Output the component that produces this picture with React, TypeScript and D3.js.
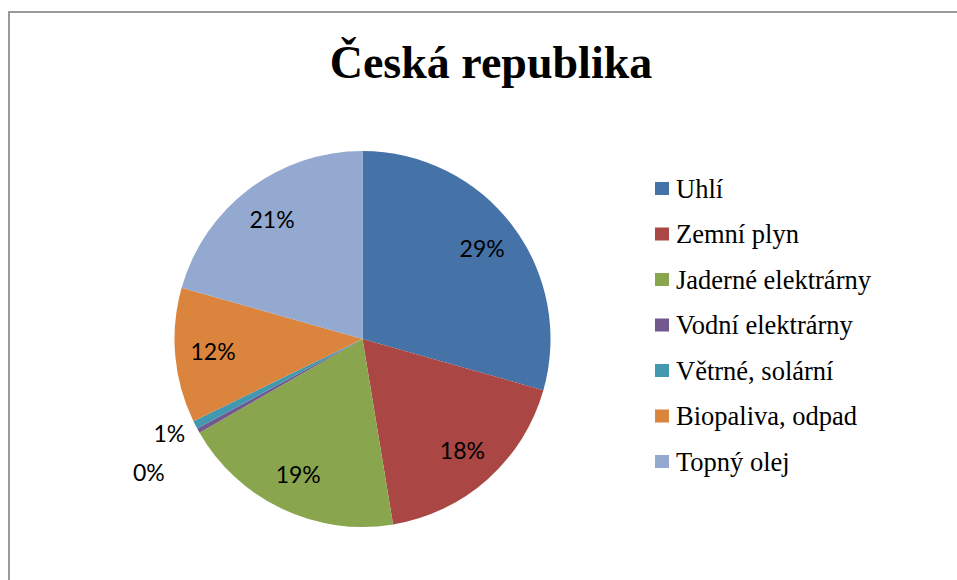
import React, { useEffect, useRef } from "react";
import * as d3 from "d3";

const categories = [
  "Uhlí",
  "Zemní plyn",
  "Jaderné elektrárny",
  "Vodní elektrárny",
  "Větrné, solární",
  "Biopaliva, odpad",
  "Topný olej",
];
const shares = [29.4, 18.0, 19.3, 0.4, 0.7, 11.6, 20.6];
const colors = ["#4572a7", "#aa4643", "#89a54e", "#71588f", "#4198af", "#db843d", "#93a9cf"];
const title = "Česká republika";

const serif = "'Liberation Serif', 'DejaVu Serif', serif";

const App = () => {
  const ref = useRef<SVGSVGElement>(null);

  useEffect(() => {
    const svg = d3.select(ref.current);
    svg.selectAll("*").remove();

    const cx = 362.5,
      cy = 339,
      r = 188;

    // chart frame
    svg
      .append("rect")
      .attr("x", 9)
      .attr("y", 12)
      .attr("width", 980)
      .attr("height", 600)
      .attr("fill", "white")
      .attr("stroke", "#9a9a9a")
      .attr("stroke-width", 2);

    svg
      .append("text")
      .attr("x", 491)
      .attr("y", 78)
      .attr("text-anchor", "middle")
      .attr("font-family", serif)
      .attr("font-weight", "bold")
      .attr("font-size", 46)
      .text(title);

    const data = categories.map((c, i) => ({ name: c, value: shares[i], color: colors[i] }));
    const pie = d3
      .pie<any>()
      .value((d) => d.value)
      .sort(null);
    const arcs = pie(data);
    const arc = d3.arc<any>().innerRadius(0).outerRadius(r);

    const g = svg.append("g").attr("transform", `translate(${cx},${cy})`);

    g.selectAll("path")
      .data(arcs)
      .join("path")
      .attr("d", arc)
      .attr("fill", (d) => d.data.color);

    const fmt = d3.format(".0f");
    const total = d3.sum(shares);
    // inner labels at ~150px, the two tiny slices get pushed outside
    const labelPos = (d: any) => {
      let a = (d.startAngle + d.endAngle) / 2;
      let rr = 150;
      if (d.data.name === "Větrné, solární") {
        rr = 215;
        a += 0.02;
      }
      if (d.data.name === "Vodní elektrárny") {
        rr = 252;
        a -= 0.05;
      }
      return [Math.sin(a) * rr, -Math.cos(a) * rr];
    };

    g.selectAll("text.lbl")
      .data(arcs)
      .join("text")
      .attr("class", "lbl")
      .attr("x", (d) => labelPos(d)[0])
      .attr("y", (d) => labelPos(d)[1])
      .attr("dy", "0.36em")
      .attr("text-anchor", "middle")
      .attr("font-family", "Lato, 'Liberation Sans', sans-serif")
      .attr("font-size", 23)
      .attr("fill", "#000")
      .text((d) => fmt((d.data.value / total) * 100) + "%");

    const legend = svg.append("g").attr("transform", "translate(655,189)");
    const row = legend
      .selectAll("g")
      .data(data)
      .join("g")
      .attr("transform", (d, i) => `translate(0,${i * 45.5})`);

    row
      .append("rect")
      .attr("x", 0)
      .attr("y", -7)
      .attr("width", 14)
      .attr("height", 13)
      .attr("fill", (d) => d.color);

    row
      .append("text")
      .attr("x", 21)
      .attr("y", 8.5)
      .attr("font-family", serif)
      .attr("font-size", 26.5)
      .attr("fill", "#000")
      .text((d) => d.name);
  }, []);

  return (
    <svg
      ref={ref}
      width={957}
      height={580}
      style={{ position: "absolute", left: 0, top: 0, display: "block" }}
    />
  );
};

export default App;
